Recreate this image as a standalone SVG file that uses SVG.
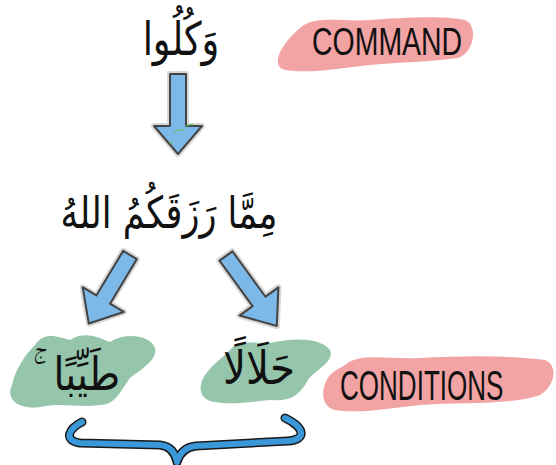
<svg xmlns="http://www.w3.org/2000/svg" width="556" height="465" viewBox="0 0 556 465">
<defs>
<style>
.ar{font-family:"DejaVu Sans",sans-serif;fill:#111;text-anchor:middle}
.lbl{font-family:"Liberation Sans",sans-serif;fill:#111}
.pink{fill:#f2a3a3}
.green{fill:#95c5ab}
.halo{fill:none;stroke:#d8d8d8;stroke-width:6;stroke-linejoin:round}
.arr{fill:#7db9e8;stroke:#444;stroke-width:2;stroke-linejoin:round}
</style>
<polygon id="arrowShape" points="-8,0 8,0 8,52 24,52 0,80 -24,52 -8,52"/>
</defs>
<rect width="556" height="465" fill="#fff"/>

<g id="command">
<path class="pink" d="M300,28 C315,15 340,22 370,20 C400,18 440,15 465,20 C478,25 475,52 458,58 C430,62 400,62 370,65 C340,68 310,74 285,70 C270,66 280,45 300,28 Z"/>
<text class="lbl" transform="translate(312,55) scale(0.73,1)" font-size="39">COMMAND</text>
</g>

<g id="kulu">
<text class="ar" transform="translate(181,55) scale(0.8,1)" font-size="46">وَكُلُوا</text>
</g>

<g id="rizq">
<text class="ar" transform="translate(169,228) scale(0.8,1)" font-size="44">مِمَّا رَزَقَكُمُ اللهُ</text>
</g>

<g id="tayyib">
<path class="green" d="M35,345 C45,330 60,338 70,340 C85,330 100,338 110,342 C125,332 150,335 155,348 C158,360 140,370 130,378 C120,392 115,405 100,405 C80,408 60,402 40,407 C20,410 5,400 12,385 C15,370 25,355 35,345 Z"/>
<text class="ar" direction="rtl" style="text-anchor:start" transform="translate(120,390) scale(0.85,1)" font-size="46">طَيِّبًا&#8194;ۚ</text>
</g>

<g id="halal">
<path class="green" d="M230,350 C240,338 260,345 275,342 C295,338 320,338 330,350 C335,362 315,370 308,380 C300,395 290,402 270,400 C250,402 230,405 215,402 C198,400 198,385 205,375 C212,365 222,358 230,350 Z"/>
<text class="ar" transform="translate(259,384) scale(0.88,1)" font-size="46">حَلَالًا</text>
</g>

<g id="conditions">
<path class="pink" d="M345,365 C360,352 390,360 420,358 C460,356 510,355 545,360 C558,365 556,385 540,395 C510,405 470,402 420,405 C390,408 360,414 335,410 C318,405 322,385 330,375 C335,370 340,368 345,365 Z"/>
<text class="lbl" transform="translate(340,400) scale(0.62,1)" font-size="42">CONDITIONS</text>
</g>

<g id="connectors">
<g transform="translate(178,74)">
<use href="#arrowShape" class="halo"/>
<use href="#arrowShape" class="arr"/>
</g>
<g fill="none" stroke="#5cc45c" stroke-width="1.2">
<path d="M186,126 q4,-2 8,-1"/>
<path d="M174,132 q5,-3 11,-2"/>
<path d="M169,143 q2,-1 4,-1"/>
</g>
<g transform="translate(130,255) rotate(31)">
<use href="#arrowShape" class="halo"/>
<use href="#arrowShape" class="arr"/>
</g>
<g transform="translate(226,256) rotate(-36) scale(1,1.08)">
<use href="#arrowShape" class="halo"/>
<use href="#arrowShape" class="arr"/>
</g>
<g id="brace" fill="none" stroke-linecap="round" stroke-linejoin="round">
<path d="M82,422 C70,428 62,440 80,443 L160,445 C170,446 175,452 177,462 C180,452 186,447 196,446 L288,441 C306,440 306,428 285,418" stroke="#1a1a1a" stroke-width="9"/>
<path d="M82,422 C70,428 62,440 80,443 L160,445 C170,446 175,452 177,462 C180,452 186,447 196,446 L288,441 C306,440 306,428 285,418" stroke="#3a97d8" stroke-width="6"/>
</g>
</g>
</svg>
